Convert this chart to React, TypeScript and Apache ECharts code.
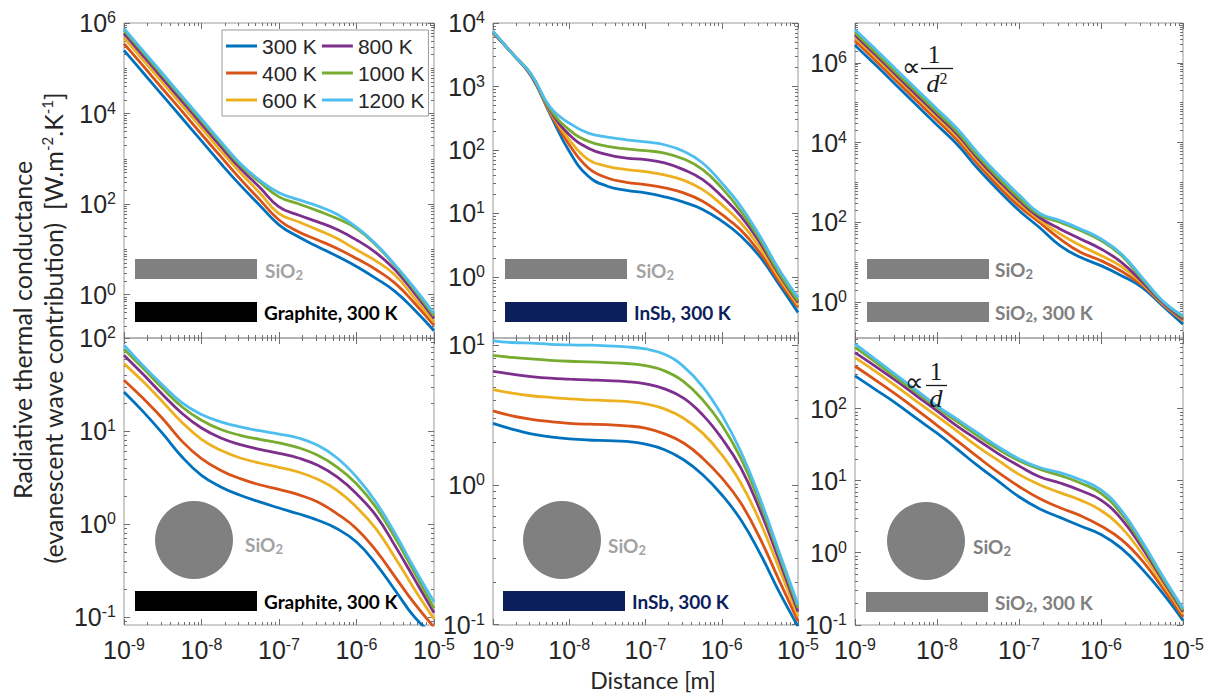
import React, { useEffect, useRef } from 'react';
import * as echarts from 'echarts';

// Distance sample points [m] (quarter-decade steps)
const distances = [1e-9, 1.778e-9, 3.162e-9, 5.623e-9, 1e-8, 1.778e-8, 3.162e-8, 5.623e-8, 1e-7, 1.778e-7, 3.162e-7, 5.623e-7, 1e-6, 1.778e-6, 3.162e-6, 5.623e-6, 1e-5];
const temperatures = ['300 K', '400 K', '600 K', '800 K', '1000 K', '1200 K'];
const lineColors = ['#0072BD', '#D95319', '#EDB120', '#7E2F8E', '#77AC30', '#4DBEEE'];

// (a) SiO2 plane over graphite plane
const graphitePlane = [
  [2.5e5, 7.9e4, 2.5e4, 7.9e3, 2.5e3, 790, 263, 95, 35, 19, 11.5, 7.1, 4.2, 2.3, 1.17, 0.46, 0.16],
  [3.5e5, 1.12e5, 3.5e4, 1.12e4, 3.5e3, 1.12e3, 363, 126, 44.7, 24.5, 16.2, 10.5, 6.3, 3.6, 1.78, 0.65, 0.21],
  [4.8e5, 1.5e5, 4.8e4, 1.5e4, 4.8e3, 1.5e3, 500, 178, 62, 41, 27, 17.4, 9.8, 5.6, 2.7, 0.83, 0.25],
  [5.9e5, 1.86e5, 5.9e4, 1.86e4, 5.9e3, 1.86e3, 617, 235, 87, 57.5, 40.7, 27.5, 16.2, 8.5, 3.5, 1.07, 0.3],
  [6.9e5, 2.2e5, 6.9e4, 2.2e4, 6.9e3, 2.2e3, 724, 310, 145, 102, 71, 48, 29, 12.6, 4.3, 1.26, 0.34],
  [7.6e5, 2.4e5, 7.6e4, 2.4e4, 7.6e3, 2.4e3, 794, 340, 178, 126, 91, 60, 31, 13.2, 4.5, 1.38, 0.39],
];
// (b) SiO2 plane over InSb plane
const insbPlane = [
  [7.05e3, 3.34e3, 1.47e3, 363, 95.3, 38.5, 26.9, 23.2, 21.1, 18.3, 15.1, 11.6, 7.59, 4.41, 2.08, 0.77, 0.275],
  [7.1e3, 3.34e3, 1.51e3, 381, 121, 52.1, 36.3, 31.0, 28.5, 25.3, 21.1, 15.6, 9.64, 5.47, 2.41, 0.865, 0.33],
  [7.2e3, 3.34e3, 1.52e3, 400, 145, 70.5, 55.3, 49.1, 45.7, 40.5, 33.4, 23.8, 13.8, 7.13, 2.89, 0.977, 0.359],
  [7.3e3, 3.34e3, 1.54e3, 420, 174, 107, 84.5, 74.8, 70.5, 62.5, 49.1, 34.2, 18.7, 9.08, 3.46, 1.1, 0.395],
  [7.4e3, 3.34e3, 1.56e3, 441, 208, 137, 114, 104, 97.7, 89.7, 72.3, 49.1, 25.3, 10.9, 3.91, 1.17, 0.42],
  [7.5e3, 3.34e3, 1.58e3, 473, 265, 185, 160, 145, 134, 121, 95.3, 62.5, 30.3, 13.0, 4.41, 1.32, 0.473],
];
// (c) SiO2 plane over SiO2 plane
const sio2Plane = [
  [2.78e6, 8.91e5, 2.8e5, 8.79e4, 2.76e4, 8.83e3, 2.2e3, 629, 198, 73.8, 26.0, 13.2, 8.17, 4.58, 2.33, 0.805, 0.279],
  [3.57e6, 1.15e6, 3.6e5, 1.13e5, 3.61e4, 1.14e4, 2.83e3, 793, 254, 98.9, 38.3, 17.7, 10.9, 5.89, 2.67, 0.887, 0.338],
  [4.34e6, 1.39e6, 4.37e5, 1.4e5, 4.39e4, 1.38e4, 3.43e3, 984, 309, 115, 51.1, 26.0, 14.6, 7.71, 2.94, 0.923, 0.352],
  [4.97e6, 1.59e6, 4.99e5, 1.57e5, 5.02e4, 1.58e4, 3.93e3, 1.12e3, 353, 132, 68.2, 38.3, 21.4, 9.9, 3.24, 0.977, 0.372],
  [5.68e6, 1.82e6, 5.71e5, 1.83e5, 5.74e4, 1.81e4, 4.5e3, 1.29e3, 404, 151, 100, 61.9, 34.8, 14.6, 3.78, 1.04, 0.41],
  [6.89e6, 2.21e6, 6.93e5, 2.18e5, 6.97e4, 2.19e4, 5.45e3, 1.56e3, 490, 169, 111, 68.2, 38.3, 16.0, 4.16, 1.08, 0.452],
];
// (d) SiO2 sphere over graphite plane
const graphiteSphere = [
  [26.4, 16.1, 9.4, 5.27, 3.34, 2.51, 2.04, 1.73, 1.49, 1.29, 1.1, 0.891, 0.64, 0.374, 0.193, 0.0995, 0.0632],
  [35.3, 22.4, 13.6, 7.76, 5.06, 3.78, 3.08, 2.65, 2.36, 2.07, 1.73, 1.29, 0.891, 0.52, 0.269, 0.139, 0.0778],
  [53.3, 33.9, 20.6, 12.4, 8.17, 6.22, 5.14, 4.54, 4.07, 3.63, 3.03, 2.31, 1.52, 0.891, 0.431, 0.198, 0.0955],
  [65.6, 40.6, 24.7, 15.5, 10.8, 8.43, 7.16, 6.37, 5.77, 5.14, 4.29, 3.21, 2.12, 1.24, 0.579, 0.254, 0.111],
  [76.2, 47.1, 28.7, 18.2, 13.1, 10.4, 9.02, 8.17, 7.46, 6.64, 5.5, 4.11, 2.72, 1.52, 0.706, 0.299, 0.124],
  [84.1, 50.4, 31.2, 20.1, 15.1, 12.6, 11.1, 10.1, 9.31, 8.43, 7.03, 5.14, 3.21, 1.73, 0.787, 0.33, 0.145],
];
// (e) SiO2 sphere over InSb plane
const insbSphere = [
  [2.75, 2.5, 2.31, 2.2, 2.13, 2.09, 2.07, 2.04, 1.95, 1.78, 1.51, 1.18, 0.849, 0.562, 0.325, 0.173, 0.0973],
  [3.38, 3.11, 2.94, 2.83, 2.75, 2.71, 2.69, 2.64, 2.54, 2.31, 1.99, 1.55, 1.12, 0.74, 0.416, 0.209, 0.106],
  [4.78, 4.52, 4.33, 4.21, 4.11, 4.05, 4.0, 3.94, 3.79, 3.49, 2.99, 2.34, 1.64, 1.03, 0.547, 0.254, 0.115],
  [6.46, 6.17, 5.94, 5.78, 5.69, 5.62, 5.56, 5.47, 5.26, 4.85, 4.16, 3.16, 2.15, 1.32, 0.662, 0.291, 0.124],
  [8.4, 8.13, 7.94, 7.76, 7.64, 7.57, 7.48, 7.36, 7.11, 6.52, 5.47, 4.05, 2.69, 1.55, 0.74, 0.316, 0.132],
  [10.7, 10.4, 10.3, 10.1, 10.0, 9.95, 9.84, 9.68, 9.35, 8.57, 7.0, 5.04, 3.16, 1.73, 0.803, 0.334, 0.139],
];
// (f) SiO2 sphere over SiO2 plane
const sio2Sphere = [
  [283, 183, 118, 72.8, 45.4, 27.1, 16.0, 9.77, 5.97, 4.07, 3.09, 2.35, 1.79, 1.15, 0.597, 0.277, 0.115],
  [385, 248, 157, 96.8, 58.5, 35.3, 21.1, 12.9, 8.3, 5.65, 4.21, 3.27, 2.35, 1.52, 0.785, 0.327, 0.129],
  [507, 327, 204, 126, 78.5, 48.0, 29.3, 18.9, 12.2, 8.77, 6.81, 5.36, 3.85, 2.23, 0.977, 0.377, 0.141],
  [597, 385, 243, 150, 92.7, 56.5, 36.5, 23.5, 16.0, 11.3, 9.27, 7.28, 5.36, 2.93, 1.18, 0.421, 0.152],
  [705, 440, 268, 167, 103, 65.2, 41.6, 27.1, 18.9, 14.4, 11.8, 9.27, 6.67, 3.45, 1.32, 0.449, 0.16],
  [785, 480, 293, 179, 109, 70.5, 45.4, 29.3, 20.0, 15.2, 12.9, 10.3, 7.43, 3.85, 1.44, 0.48, 0.169],
];

// y tick labels per panel
const yTicksA = [1, 1e2, 1e4, 1e6];
const yTicksB = [1, 10, 1e2, 1e3, 1e4];
const yTicksC = [1, 1e2, 1e4, 1e6];
const yTicksD = [0.1, 1, 10, 100];
const yTicksE = [0.1, 1, 10];
const yTicksF = [0.1, 1, 10, 100];

const SANS = 'Liberation Sans';
const HUM = 'Lato';
const SERIF = 'Liberation Serif';
const GRAY = '#808080';
const NAVY = '#0c1e5c';

const panels = [
  { left: 124, top: 23, width: 310, height: 315, ymin: 0.1106, ymax: 1.004e6, ticks: yTicksA, data: graphitePlane },
  { left: 493, top: 23, width: 305, height: 315, ymin: 0.109, ymax: 1.004e4, ticks: yTicksB, data: insbPlane },
  { left: 855, top: 23, width: 328, height: 315, ymin: 0.125, ymax: 1e7, ticks: yTicksC, data: sio2Plane },
  { left: 124, top: 338, width: 310, height: 287, ymin: 0.082, ymax: 100.5, ticks: yTicksD, data: graphiteSphere },
  { left: 493, top: 338, width: 305, height: 287, ymin: 0.0995, ymax: 11.2, ticks: yTicksE, data: insbSphere },
  { left: 855, top: 338, width: 328, height: 287, ymin: 0.0995, ymax: 950, ticks: yTicksF, data: sio2Sphere },
];

const powLabel = (v: number) => `{b|10}{s|${Math.round(Math.log10(v))}}`;
const tickRich = {
  b: { fontSize: 25, fontFamily: SANS, color: '#262626', lineHeight: 27 },
  s: { fontSize: 16, fontFamily: SANS, color: '#262626', lineHeight: 16, verticalAlign: 'top' },
};

function minorValues(lo: number, hi: number, majors: number[]) {
  const out: number[] = [];
  const e0 = Math.floor(Math.log10(lo));
  const e1 = Math.ceil(Math.log10(hi));
  for (let e = e0; e <= e1; e++) {
    const dec = Math.pow(10, e);
    const isMajor = majors.some((m) => Math.abs(Math.log10(m) - e) < 1e-6);
    if (!isMajor && dec >= lo && dec <= hi) out.push(dec);
    for (let k = 2; k <= 9; k++) {
      const v = k * dec;
      if (v >= lo && v <= hi) out.push(v);
    }
  }
  return out;
}

const xMajors = [1e-9, 1e-8, 1e-7, 1e-6, 1e-5];

export default function App() {
  const ref = useRef<HTMLDivElement>(null);
  useEffect(() => {
    const chart = echarts.init(ref.current!, null, { renderer: 'svg' });
    const grid: any[] = [];
    const xAxis: any[] = [];
    const yAxis: any[] = [];
    const series: any[] = [];
    const tickLine = { color: '#6e6e6e', width: 1 };
    const xMinor = minorValues(1e-9, 1e-5, xMajors);

    panels.forEach((p, i) => {
      grid.push({ left: p.left, top: p.top, width: p.width, height: p.height, show: true, borderColor: '#9a9a9a', borderWidth: 1 });
      const xb = { type: 'log', logBase: 10, min: 1e-9, max: 1e-5, gridIndex: i, splitLine: { show: false }, axisLine: { show: false, onZero: false } };
      xAxis.push({ ...xb, position: 'bottom', axisTick: { show: true, inside: true, length: 6, lineStyle: tickLine }, axisLabel: { show: i >= 3, formatter: powLabel, rich: tickRich, margin: 11 } });
      xAxis.push({ ...xb, position: 'top', axisTick: { show: true, inside: true, length: 6, lineStyle: tickLine }, axisLabel: { show: false } });
      xAxis.push({ ...xb, position: 'bottom', axisTick: { show: true, inside: true, length: 3, customValues: xMinor, lineStyle: tickLine }, axisLabel: { show: false } });
      xAxis.push({ ...xb, position: 'top', axisTick: { show: true, inside: true, length: 3, customValues: xMinor, lineStyle: tickLine }, axisLabel: { show: false } });

      const yMinor = minorValues(p.ymin, p.ymax, p.ticks);
      const yb = { type: 'log', logBase: 10, min: p.ymin, max: p.ymax, gridIndex: i, splitLine: { show: false }, axisLine: { show: false, onZero: false } };
      yAxis.push({ ...yb, position: 'left', axisTick: { show: true, inside: true, length: 6, customValues: p.ticks, lineStyle: tickLine }, axisLabel: { show: true, customValues: p.ticks, formatter: powLabel, rich: tickRich, margin: 8 } });
      yAxis.push({ ...yb, position: 'right', axisTick: { show: true, inside: true, length: 6, customValues: p.ticks, lineStyle: tickLine }, axisLabel: { show: false } });
      yAxis.push({ ...yb, position: 'left', axisTick: { show: true, inside: true, length: 3, customValues: yMinor, lineStyle: tickLine }, axisLabel: { show: false } });
      yAxis.push({ ...yb, position: 'right', axisTick: { show: true, inside: true, length: 3, customValues: yMinor, lineStyle: tickLine }, axisLabel: { show: false } });

      p.data.forEach((vals, j) => {
        series.push({
          type: 'line',
          name: temperatures[j],
          xAxisIndex: i * 4,
          yAxisIndex: i * 4,
          data: distances.map((d, k) => [d, vals[k]]),
          smooth: 0.45,
          symbol: 'none',
          clip: true,
          lineStyle: { width: 2.8, color: lineColors[j] },
          itemStyle: { color: lineColors[j] },
          z: 3 + j,
        });
      });
    });

    const sub = (fill: string, w = 'bold') => ({ fontSize: 13, fontFamily: HUM, fontWeight: w, fill, verticalAlign: 'bottom', lineHeight: 12 });
    const label = (x: number, y: number, text: string, fill: string) => ({
      type: 'text', x, y, z: 50,
      style: { text, fontSize: 19, fontFamily: HUM, fontWeight: 'bold', fill, align: 'left', verticalAlign: 'middle', textAlign: 'left', textVerticalAlign: 'middle', lineHeight: 22, rich: { sub: sub(fill) } },
    });
    const bar = (x: number, y: number, fill: string) => ({ type: 'rect', z: 50, shape: { x, y, width: 122, height: 20 }, style: { fill } });
    const disk = (cx: number, cy: number) => ({ type: 'circle', z: 50, shape: { cx, cy, r: 39 }, style: { fill: GRAY } });
    const serif = (x: number, y: number, text: string, size: number, italic = false, rich: any = undefined) => ({
      type: 'text', x, y, z: 50,
      style: { text, fontSize: size, fontFamily: SERIF, fontStyle: italic ? 'italic' : 'normal', fill: '#1a1a1a', align: 'center', verticalAlign: 'middle', textAlign: 'center', textVerticalAlign: 'middle', rich },
    });

    const graphic: any[] = [
      // panel a
      bar(135, 259, GRAY), label(265, 270, 'SiO{sub|2}', '#a3a3a3'),
      bar(135, 302, '#000000'), label(264, 312, 'Graphite, 300 K', '#000000'),
      // panel b
      bar(505, 259, GRAY), label(636, 270, 'SiO{sub|2}', '#a3a3a3'),
      bar(505, 302, NAVY), label(634, 312, 'InSb, 300 K', NAVY),
      // panel c
      bar(867, 259, GRAY), label(995, 269, 'SiO{sub|2}', GRAY),
      bar(867, 302, GRAY), label(995, 312, 'SiO{sub|2}, 300 K', GRAY),
      serif(911, 67, '∝', 26),
      serif(934, 54, '1', 25),
      { type: 'line', z: 50, shape: { x1: 921, y1: 68.5, x2: 953, y2: 68.5 }, style: { stroke: '#1a1a1a', lineWidth: 1.3 } },
      serif(937, 83, 'd{sup|2}', 26, true, { sup: { fontSize: 16, fontFamily: SERIF, fill: '#1a1a1a', verticalAlign: 'top', lineHeight: 16 } }),
      // panel d
      disk(194, 540), label(245, 544, 'SiO{sub|2}', '#a3a3a3'),
      bar(135, 591, '#000000'), label(264, 601, 'Graphite, 300 K', '#000000'),
      // panel e
      disk(562, 540), label(608, 545, 'SiO{sub|2}', '#a3a3a3'),
      bar(503, 591, NAVY), label(632, 601, 'InSb, 300 K', NAVY),
      // panel f
      disk(926, 541), label(973, 546, 'SiO{sub|2}', GRAY),
      bar(866, 592, GRAY), label(995, 602, 'SiO{sub|2}, 300 K', GRAY),
      serif(914, 382, '∝', 26),
      serif(936, 371, '1', 25),
      { type: 'line', z: 50, shape: { x1: 926, y1: 385.5, x2: 947, y2: 385.5 }, style: { stroke: '#1a1a1a', lineWidth: 1.3 } },
      serif(936, 398, 'd', 26, true),
      // axis titles
      {
        type: 'text', x: 22, y: 330, rotation: Math.PI / 2, z: 50,
        style: { text: 'Radiative thermal conductance', fontSize: 25, fontFamily: HUM, fill: '#262626', align: 'center', verticalAlign: 'middle', textAlign: 'center', textVerticalAlign: 'middle' },
      },
      {
        type: 'text', x: 53, y: 328, rotation: Math.PI / 2, z: 50,
        style: {
          text: '(evanescent wave contribution)  [W.m{sup|-2}.K{sup|-1}]', fontSize: 25, fontFamily: HUM, fill: '#262626', lineHeight: 28,
          align: 'center', verticalAlign: 'middle', textAlign: 'center', textVerticalAlign: 'middle',
          rich: { sup: { fontSize: 15, fontFamily: HUM, fill: '#262626', verticalAlign: 'top', lineHeight: 15 } },
        },
      },
      {
        type: 'text', x: 653, y: 680, z: 50,
        style: { text: 'Distance [m]', fontSize: 23, fontFamily: HUM, fill: '#262626', align: 'center', verticalAlign: 'middle', textAlign: 'center', textVerticalAlign: 'middle' },
      },
    ];

    chart.setOption({
      animation: false,
      textStyle: { fontFamily: SANS },
      grid,
      xAxis,
      yAxis,
      series,
      legend: {
        data: ['300 K', '800 K', '400 K', '1000 K', '600 K', '1200 K'],
        left: 222, top: 30, width: 200,
        orient: 'horizontal',
        icon: 'rect', itemWidth: 31, itemHeight: 3, itemGap: 5,
        padding: [5, 4, 5, 4],
        backgroundColor: '#ffffff', borderColor: '#9a9a9a', borderWidth: 1,
        selectedMode: false,
        textStyle: { fontSize: 21, fontFamily: SANS, color: '#262626', lineHeight: 22 },
      },
      graphic,
    });
    return () => chart.dispose();
  }, []);
  return <div ref={ref} style={{ position: 'absolute', left: 0, top: 0, width: 1212, height: 694 }} />;
}
